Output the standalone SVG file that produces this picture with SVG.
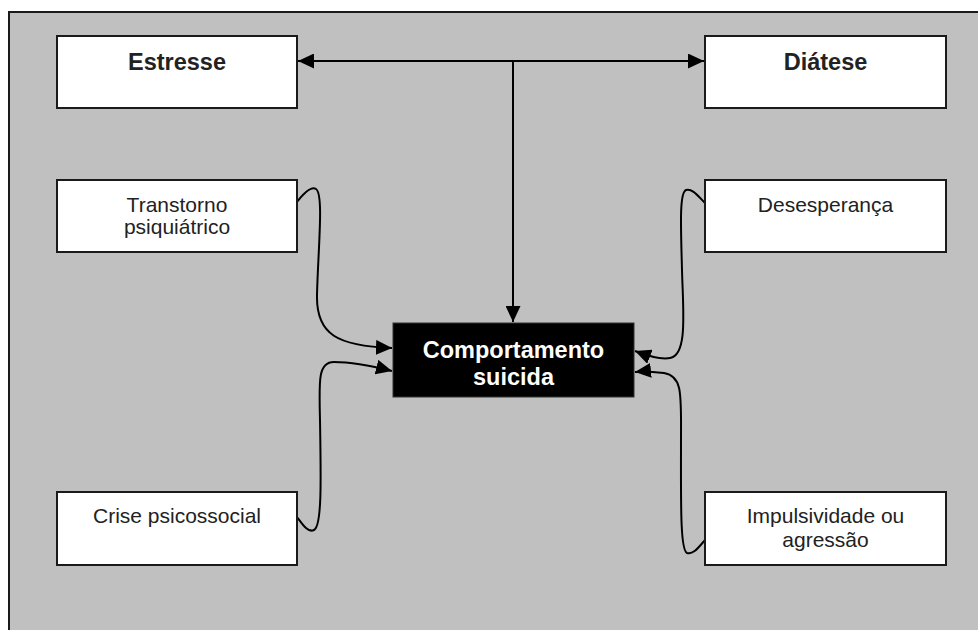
<svg xmlns="http://www.w3.org/2000/svg" width="978" height="630" viewBox="0 0 978 630">
  <defs>
    <style>
      .box { fill: #ffffff; stroke: #1a1a1a; stroke-width: 2; }
      .lbl { font-family: "Liberation Sans", Arial, sans-serif; font-size: 21px; fill: #222222; text-anchor: middle; }
      .bold { font-weight: bold; font-size: 23.5px; }
      .white { fill: #ffffff; }
      .conn { fill: none; stroke: #000000; stroke-width: 2; }
    </style>
    <marker id="arr" markerUnits="userSpaceOnUse" markerWidth="16" markerHeight="15" refX="16" refY="7.5" orient="auto" viewBox="0 0 16 15">
      <path d="M0,0 L16,7.5 L0,15 z" fill="#000000"/>
    </marker>
  </defs>
  <rect x="0" y="0" width="978" height="630" fill="#ffffff"/>
  <rect x="9" y="12" width="975" height="630" fill="#c0c0c0" stroke="#1a1a1a" stroke-width="2"/>

  <g id="connectors">
    <line class="conn" x1="513" y1="61" x2="298" y2="61" marker-end="url(#arr)"/>
    <line class="conn" x1="513" y1="61" x2="704" y2="61" marker-end="url(#arr)"/>
    <line class="conn" x1="513" y1="61" x2="513" y2="322" marker-end="url(#arr)"/>
    <path class="conn" d="M297,202 C304,193 311,186 316,189 C324,194 318,250 317,295 C316,335 338,346 392,348" marker-end="url(#arr)"/>
    <path class="conn" d="M297,517 C303,525 308,533 314,530 C322,526 321,480 320,420 C319,380 318,362 334,362 C352,362 372,366 392,371" marker-end="url(#arr)"/>
    <path class="conn" d="M705,203 C698,196 692,188 686,190 C679,193 681,230 682,270 C683,310 688,355 670,358 C660,360 648,356 635,351" marker-end="url(#arr)"/>
    <path class="conn" d="M705,540 C698,548 693,555 687,553 C680,550 681,500 681,440 C681,395 683,376 664,373 C655,372 645,371 635,372" marker-end="url(#arr)"/>
  </g>

  <g id="estresse">
    <rect class="box" x="57" y="36" width="240" height="72"/>
    <text class="lbl bold" x="177" y="70">Estresse</text>
  </g>
  <g id="diatese">
    <rect class="box" x="705" y="36" width="241" height="72"/>
    <text class="lbl bold" x="825.5" y="70">Diátese</text>
  </g>
  <g id="transtorno">
    <rect class="box" x="57" y="180" width="240" height="72"/>
    <text class="lbl" x="177" y="212">Transtorno</text>
    <text class="lbl" x="177" y="234">psiquiátrico</text>
  </g>
  <g id="desesperanca">
    <rect class="box" x="705" y="180" width="241" height="72"/>
    <text class="lbl" x="825.5" y="212">Desesperança</text>
  </g>
  <g id="comportamento">
    <rect x="393" y="323" width="241" height="74" fill="#000000" stroke="#333333" stroke-width="1"/>
    <text class="lbl bold white" x="513.5" y="358">Comportamento</text>
    <text class="lbl bold white" x="513.5" y="385">suicida</text>
  </g>
  <g id="crise">
    <rect class="box" x="57" y="492" width="240" height="73"/>
    <text class="lbl" x="177" y="523">Crise psicossocial</text>
  </g>
  <g id="impulsividade">
    <rect class="box" x="705" y="492" width="241" height="73"/>
    <text class="lbl" x="825.5" y="523">Impulsividade ou</text>
    <text class="lbl" x="825.5" y="547">agressão</text>
  </g>
</svg>
